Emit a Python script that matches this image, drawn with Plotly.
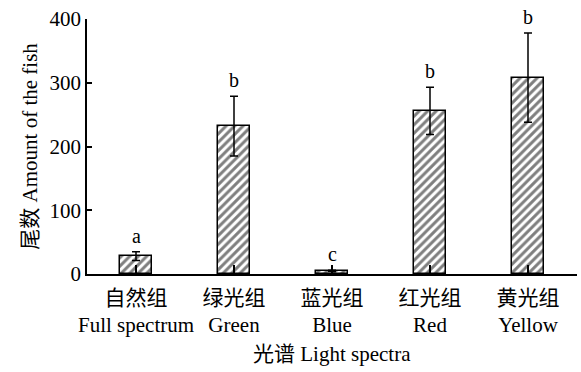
import plotly.graph_objects as go

categories_cn = ["自然组", "绿光组", "蓝光组", "红光组", "黄光组"]
categories_en = ["Full spectrum", "Green", "Blue", "Red", "Yellow"]
fish_amount = [28, 232, 5, 256, 308]
fish_error = [7, 47, 1, 37, 70]
sig_letters = ["a", "b", "c", "b", "b"]
y_ticks = [0, 100, 200, 300, 400]

FONT = "Liberation Serif, Times New Roman, Noto Sans CJK SC, serif"

x_idx = list(range(len(categories_cn)))
tick_text = [f"{c}<br>{e}" for c, e in zip(categories_cn, categories_en)]

fig = go.Figure()
fig.add_trace(go.Bar(
    x=x_idx,
    y=fish_amount,
    width=0.33,
    marker=dict(
        color="white",
        line=dict(color="black", width=1.5),
        pattern=dict(shape="/", fgcolor="black", bgcolor="white", size=6, solidity=0.5),
    ),
    error_y=dict(type="data", array=fish_error, visible=True,
                 color="black", thickness=1.5, width=4),
    showlegend=False,
    hoverinfo="skip",
))

for xi, v, e, s in zip(x_idx, fish_amount, fish_error, sig_letters):
    fig.add_annotation(x=xi, y=v + e, text=s, showarrow=False,
                       yanchor="bottom", yshift=3,
                       font=dict(family=FONT, size=20, color="black"))

fig.add_annotation(xref="paper", yref="paper", x=0.5, y=-0.26, yanchor="top",
                   text="光谱 Light spectra", showarrow=False,
                   font=dict(family=FONT, size=21, color="black"))
fig.add_annotation(xref="paper", yref="paper", x=-0.118, y=0.5, xanchor="center",
                   yanchor="middle", textangle=-90,
                   text="尾数 Amount of the fish", showarrow=False,
                   font=dict(family=FONT, size=21, color="black"))

fig.update_layout(
    width=581, height=372,
    margin=dict(l=87, r=4, t=19, b=98),
    paper_bgcolor="white", plot_bgcolor="white",
    font=dict(family=FONT, size=21, color="black"),
    bargap=0,
)
fig.update_xaxes(
    range=[-0.5, 4.5], automargin=False,
    tickmode="array", tickvals=x_idx, ticktext=tick_text,
    tickson="boundaries", ticks="inside", ticklen=9, tickwidth=1.5, tickcolor="black",
    ticklabelstandoff=4,
    showline=True, linecolor="black", linewidth=1.5,
    showgrid=False, zeroline=False,
)
fig.update_yaxes(
    range=[0, 400], tickvals=y_ticks, automargin=False,
    ticks="inside", ticklen=5, tickwidth=1.5, tickcolor="black",
    showline=True, linecolor="black", linewidth=1.5,
    showgrid=False, zeroline=False,
)

fig.write_html(
    "out.html",
    config={"displayModeBar": False},
    post_script="document.body.style.margin='0';document.body.style.overflow='hidden';",
)
